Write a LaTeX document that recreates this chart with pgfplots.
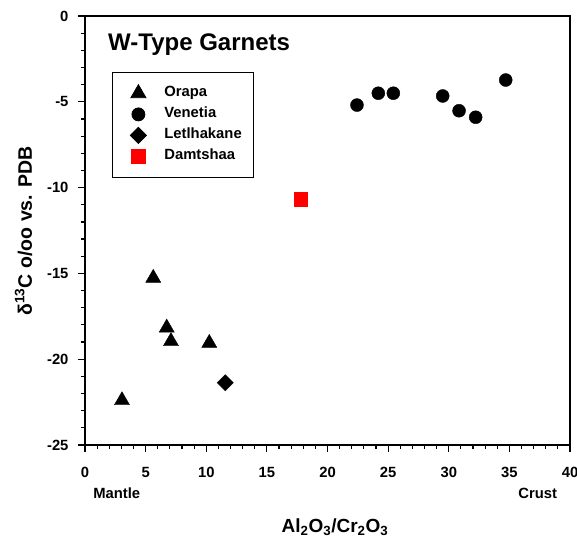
\documentclass[border=0pt]{standalone}
\usepackage{fontspec}
\setmainfont{Liberation Sans}
\usepackage{pgfplots}
\pgfplotsset{compat=1.18}

\definecolor{damred}{RGB}{255,0,0}

\begin{document}
\begin{tikzpicture}
\begin{axis}[
  scale only axis,
  width=485pt, height=429pt,
  xmin=0, xmax=40, ymin=-25, ymax=0,
  xtick={0,5,...,40}, ytick={-25,-20,...,0},
  minor tick num=4,
  tick align=outside,
  tick pos=left,
  major tick length=7pt,
  minor tick length=4pt,
  axis line style={line width=1.5pt},
  every tick/.append style={black, line width=1.2pt},
  every minor tick/.append style={black, line width=1.2pt},
  /pgf/number format/assume math mode=true,
  tick label style={font=\fontsize{14.8}{16}\selectfont\bfseries},
  xticklabel style={yshift=-12pt},
  yticklabel style={xshift=-6pt},
  legend cell align=left,
  legend style={at={(0.0557,0.8695)}, anchor=north west,
    draw=black, line width=0.8pt,
    font=\fontsize{14.8}{16}\selectfont\bfseries,
    inner xsep=9.3pt, inner ysep=11.5pt, row sep=2pt,
    nodes={inner sep=2pt, text height=11pt, text depth=4pt},
    /tikz/every odd column/.append style={column sep=14.7pt}},
  legend image code/.code={%
    \path[draw=none, fill=none] (0pt,-1pt) rectangle (26pt,1pt);
    \draw[only marks, #1] plot coordinates {(16.7pt,0pt)};},
]

% Orapa
\addplot[only marks, mark=triangle*, mark size=8.7pt, black] coordinates {
  (3.05,-22.40) (5.63,-15.27) (6.74,-18.17) (7.09,-18.96) (10.25,-19.06)
};
\addlegendentry{Orapa}

% Venetia
\addplot[only marks, mark=*, mark size=6.5pt, black] coordinates {
  (22.43,-5.19) (24.19,-4.50) (25.43,-4.50) (29.50,-4.66)
  (30.85,-5.52) (32.22,-5.90) (34.70,-3.73)
};
\addlegendentry{Venetia}

% Letlhakane
\addplot[only marks, mark=square*, mark size=5.7pt, mark options={rotate=45}, black] coordinates {
  (11.57,-21.37)
};
\addlegendentry{Letlhakane}

% Damtshaa
\addplot[only marks, mark=square*, mark size=6.8pt, damred, draw=damred] coordinates {
  (17.79,-10.66)
};
\addlegendentry{Damtshaa}

\end{axis}

% title and annotations (axis box lower left is at the origin)
\node[anchor=base west, font=\fontsize{24}{26}\selectfont\bfseries, inner sep=0pt]
  at (23pt,394pt) {W-Type Garnets};
\node[anchor=base, font=\fontsize{14.8}{16}\selectfont\bfseries, inner sep=0pt]
  at (31.7pt,-53pt) {Mantle};
\node[anchor=base east, font=\fontsize{14.8}{16}\selectfont\bfseries, inner sep=0pt]
  at (472.3pt,-53pt) {Crust};
\node[anchor=base, font=\fontsize{19}{21}\selectfont\bfseries, inner sep=0pt]
  at (250pt,-87pt) {Al\textsubscript{2}O\textsubscript{3}/Cr\textsubscript{2}O\textsubscript{3}};
\node[anchor=base, rotate=90, font=\fontsize{19.5}{21}\selectfont\bfseries, inner sep=0pt]
  at (-53pt,214pt) {δ\textsuperscript{13}C o/oo vs. PDB};

\pgfresetboundingbox
\useasboundingbox (-85pt,-96pt) rectangle (492pt,445pt);
\end{tikzpicture}
\end{document}
